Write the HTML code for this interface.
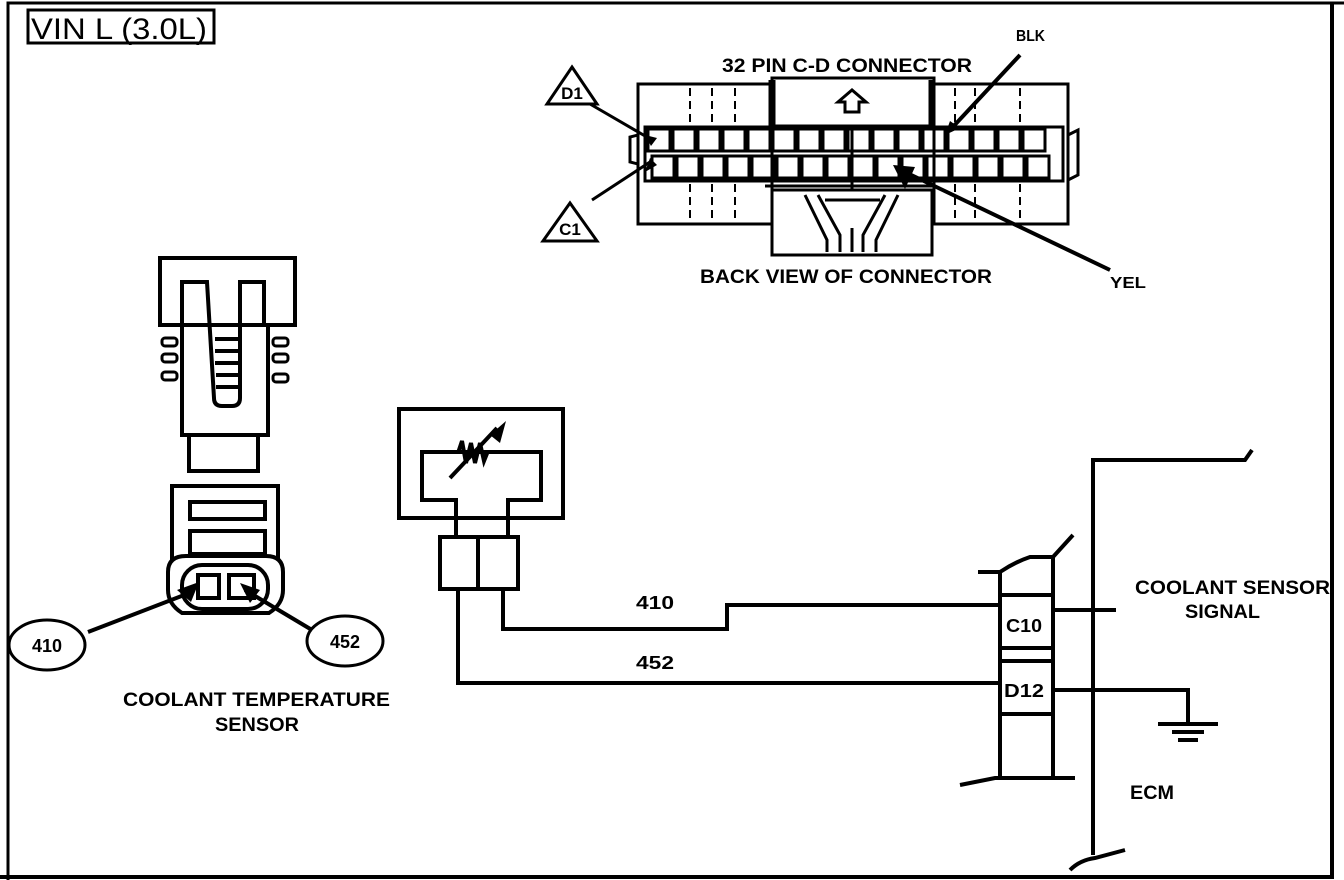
<!DOCTYPE html>
<html><head><meta charset="utf-8"><style>
html,body{margin:0;padding:0;background:#fff;}
svg{display:block;}
text{font-family:"Liberation Sans",sans-serif;font-weight:bold;fill:#000;}
</style></head><body>
<svg width="1344" height="880" viewBox="0 0 1344 880" xmlns="http://www.w3.org/2000/svg">
<g fill="none" stroke="#000" stroke-width="4" stroke-linejoin="miter">
<!-- frame -->
<polyline points="8,880 8,3 1344,3" stroke-width="3"/>
<polyline points="1332,3 1332,877 0,877" stroke-width="4"/>
<rect x="28" y="10" width="186" height="33" stroke-width="3"/>

<!-- 32 pin connector -->
<rect x="638" y="84" width="134" height="140" stroke-width="3"/>
<rect x="934" y="84" width="134" height="140" stroke-width="3"/>
<rect x="772" y="78" width="162" height="48" stroke-width="3"/>
<line x1="772" y1="80" x2="772" y2="126" stroke-width="7"/>
<line x1="932" y1="80" x2="932" y2="126" stroke-width="7"/>
<rect x="772" y="190" width="160" height="65" stroke-width="3"/>
<path d="M1068,135 l10,-5 v45 l-10,5" stroke-width="3"/>
<path d="M638,135 l-8,2 v25 l8,2" stroke-width="3"/>
<g stroke-width="2" stroke-dasharray="8,5">
<line x1="690" y1="88" x2="690" y2="124"/><line x1="712" y1="88" x2="712" y2="124"/><line x1="735" y1="88" x2="735" y2="124"/>
<line x1="690" y1="184" x2="690" y2="220"/><line x1="712" y1="184" x2="712" y2="220"/><line x1="735" y1="184" x2="735" y2="220"/>
<line x1="955" y1="88" x2="955" y2="124"/><line x1="975" y1="88" x2="975" y2="124"/><line x1="1020" y1="88" x2="1020" y2="124"/>
<line x1="955" y1="184" x2="955" y2="220"/><line x1="975" y1="184" x2="975" y2="220"/><line x1="1020" y1="184" x2="1020" y2="220"/>
</g>
<rect x="645" y="127" width="418" height="54" stroke-width="3"/>
<g stroke-width="3">
<rect x="648" y="129" width="22" height="22"/><rect x="673" y="129" width="22" height="22"/><rect x="698" y="129" width="22" height="22"/><rect x="723" y="129" width="22" height="22"/><rect x="748" y="129" width="22" height="22"/><rect x="773" y="129" width="22" height="22"/><rect x="798" y="129" width="22" height="22"/><rect x="823" y="129" width="22" height="22"/><rect x="848" y="129" width="22" height="22"/><rect x="873" y="129" width="22" height="22"/><rect x="898" y="129" width="22" height="22"/><rect x="923" y="129" width="22" height="22"/><rect x="948" y="129" width="22" height="22"/><rect x="973" y="129" width="22" height="22"/><rect x="998" y="129" width="22" height="22"/><rect x="1023" y="129" width="22" height="22"/>
<rect x="652" y="156" width="22" height="22"/><rect x="677" y="156" width="22" height="22"/><rect x="702" y="156" width="22" height="22"/><rect x="727" y="156" width="22" height="22"/><rect x="752" y="156" width="22" height="22"/><rect x="777" y="156" width="22" height="22"/><rect x="802" y="156" width="22" height="22"/><rect x="827" y="156" width="22" height="22"/><rect x="852" y="156" width="22" height="22"/><rect x="877" y="156" width="22" height="22"/><rect x="902" y="156" width="22" height="22"/><rect x="927" y="156" width="22" height="22"/><rect x="952" y="156" width="22" height="22"/><rect x="977" y="156" width="22" height="22"/><rect x="1002" y="156" width="22" height="22"/><rect x="1027" y="156" width="22" height="22"/>
<line x1="852" y1="126" x2="852" y2="190"/>
<line x1="765" y1="186" x2="935" y2="186"/>
<path d="M805,195 l22,45 v12 M898,195 l-22,45 v12 M818,195 l22,40 v17 M885,195 l-22,40 v17 M825,200 h55 M852,228 v24"/>
</g>
<path d="M838,102 l14,-12 l14,12 h-7 v10 h-14 v-10 z" stroke-width="3"/>
<!-- triangles -->
<path d="M572,67 l25,37 h-50 z" stroke-width="3"/>
<path d="M570,203 l27,38 h-54 z" stroke-width="3"/>
<line x1="590" y1="104" x2="652" y2="140" stroke-width="3"/>
<line x1="592" y1="200" x2="650" y2="162" stroke-width="3"/>
<line x1="1020" y1="55" x2="950" y2="130" stroke-width="4"/>
<line x1="1110" y1="270" x2="905" y2="172" stroke-width="4"/>
</g>
<g fill="#000">
<path d="M645,135 l12,3 l-6,8 z"/>
<path d="M645,172 l5,-14 l7,7 z"/>
<path d="M945,135 l5,-14 l10,7 z"/>
<path d="M893,165 l22,2 l-10,22 z"/>
</g>

<!-- sensor -->
<g fill="none" stroke="#000" stroke-width="4">
<rect x="160" y="258" width="135" height="67"/>
<rect x="182" y="325" width="86" height="110"/>
<rect x="189" y="435" width="69" height="36"/>
<path d="M182,325 V282 H207 L214,398 Q214,406 222,406 H232 Q240,406 240,398 V282 H264 V325"/>
<line x1="215" y1="339" x2="238" y2="339"/><line x1="215" y1="351" x2="238" y2="351"/><line x1="215" y1="363" x2="238" y2="363"/><line x1="216" y1="375" x2="238" y2="375"/><line x1="216" y1="387" x2="238" y2="387"/>
<rect x="162" y="338" width="15" height="8" rx="3" stroke-width="3"/><rect x="162" y="354" width="15" height="8" rx="3" stroke-width="3"/><rect x="162" y="372" width="15" height="8" rx="3" stroke-width="3"/>
<rect x="273" y="338" width="15" height="8" rx="3" stroke-width="3"/><rect x="273" y="354" width="15" height="8" rx="3" stroke-width="3"/><rect x="273" y="374" width="15" height="8" rx="3" stroke-width="3"/>
<path d="M172,560 v-74 h106 v74"/>
<rect x="190" y="502" width="75" height="17"/>
<rect x="190" y="531" width="75" height="23"/>
<path d="M186,556 h80 q17,0 17,16 v18 q0,14 -14,23 h-87 q-14,-9 -14,-23 v-18 q0,-16 18,-16 z"/>
<rect x="182" y="565" width="86" height="44" rx="20"/>
<rect x="198" y="575" width="21" height="23"/>
<rect x="229" y="575" width="25" height="23"/>
<line x1="88" y1="632" x2="192" y2="592"/>
<line x1="312" y1="630" x2="245" y2="590"/>
<ellipse cx="47" cy="645" rx="38" ry="25" stroke-width="3"/>
<ellipse cx="345" cy="641" rx="38" ry="25" stroke-width="3"/>
</g>
<g fill="#000">
<path d="M177,590 l22,-8 l-8,20 z"/>
<path d="M240,583 l20,7 l-10,13 z"/>
</g>

<!-- thermistor -->
<g fill="none" stroke="#000" stroke-width="4">
<rect x="399" y="409" width="164" height="109"/>
<path d="M456,536 V500 H422 V452 H541 V500 H508 V536"/>
<rect x="440" y="537" width="38" height="52"/>
<rect x="478" y="537" width="40" height="52"/>
<path d="M458,453 l4,-12 l4,22 l5,-20 l4,20 l5,-20 l4,18 l4,-10" stroke-width="4"/>
<line x1="450" y1="478" x2="497" y2="428"/>
<!-- wires -->
<polyline points="458,589 458,683 1000,683"/>
<polyline points="503,589 503,629 727,629 727,605 1000,605"/>
<!-- ECM connector -->
<line x1="1000" y1="572" x2="1000" y2="778"/>
<line x1="1053" y1="555" x2="1053" y2="778"/>
<path d="M978,572 h22 q15,-10 30,-15 h23 l20,-22"/>
<line x1="1000" y1="595" x2="1053" y2="595"/>
<line x1="1000" y1="648" x2="1053" y2="648"/>
<line x1="1000" y1="661" x2="1053" y2="661"/>
<line x1="1000" y1="714" x2="1053" y2="714"/>
<path d="M960,785 l35,-7 h80"/>
<line x1="1053" y1="610" x2="1116" y2="610"/>
<polyline points="1053,690 1188,690 1188,724"/>
<line x1="1158" y1="724" x2="1218" y2="724"/>
<line x1="1172" y1="732" x2="1204" y2="732"/>
<line x1="1178" y1="740" x2="1198" y2="740"/>
<polyline points="1093,855 1093,460 1245,460 1252,450"/>
<path d="M1070,870 q10,-10 25,-12 l30,-8"/>
</g>
<path d="M490,435 l16,-14 l-6,22 z" fill="#000"/>

<!-- texts -->
<text x="31" y="39" font-size="30" textLength="176" lengthAdjust="spacingAndGlyphs" style="font-weight:normal">VIN L (3.0L)</text>
<text x="722" y="72" font-size="19" textLength="250" lengthAdjust="spacingAndGlyphs">32 PIN C-D  CONNECTOR</text>
<text x="700" y="283" font-size="19" textLength="292" lengthAdjust="spacingAndGlyphs">BACK VIEW OF CONNECTOR</text>
<text x="1016" y="41" font-size="16" textLength="29" lengthAdjust="spacingAndGlyphs">BLK</text>
<text x="1110" y="288" font-size="16" textLength="36" lengthAdjust="spacingAndGlyphs">YEL</text>
<text x="572" y="99" font-size="17" text-anchor="middle">D1</text>
<text x="570" y="235" font-size="17" text-anchor="middle">C1</text>
<text x="47" y="652" font-size="18" text-anchor="middle">410</text>
<text x="345" y="648" font-size="18" text-anchor="middle">452</text>
<text x="123" y="706" font-size="19" textLength="267" lengthAdjust="spacingAndGlyphs">COOLANT TEMPERATURE</text>
<text x="215" y="731" font-size="19" textLength="84" lengthAdjust="spacingAndGlyphs">SENSOR</text>
<text x="636" y="609" font-size="18" textLength="38" lengthAdjust="spacingAndGlyphs">410</text>
<text x="636" y="669" font-size="18" textLength="38" lengthAdjust="spacingAndGlyphs">452</text>
<text x="1006" y="632" font-size="18" textLength="36" lengthAdjust="spacingAndGlyphs">C10</text>
<text x="1004" y="697" font-size="18" textLength="40" lengthAdjust="spacingAndGlyphs">D12</text>
<text x="1135" y="594" font-size="19" textLength="195" lengthAdjust="spacingAndGlyphs">COOLANT SENSOR</text>
<text x="1185" y="618" font-size="19" textLength="75" lengthAdjust="spacingAndGlyphs">SIGNAL</text>
<text x="1130" y="799" font-size="19" textLength="44" lengthAdjust="spacingAndGlyphs">ECM</text>
</svg>
</body></html>
